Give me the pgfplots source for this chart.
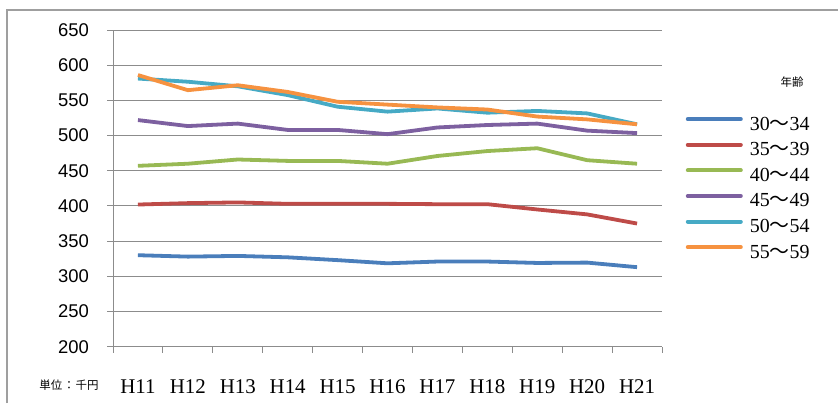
\documentclass[border=0pt]{standalone}
\usepackage{fontspec}
\setmainfont{Liberation Serif}
\newfontfamily\cjk{Noto Sans CJK JP}
\newfontfamily\sansf{Liberation Sans}
\usepackage{pgfplots}
\pgfplotsset{compat=1.18}
\definecolor{cblue}{HTML}{4A7EBB}
\definecolor{cred}{HTML}{BE4B48}
\definecolor{cgreen}{HTML}{98B954}
\definecolor{cpurple}{HTML}{7D60A0}
\definecolor{cteal}{HTML}{46AAC5}
\definecolor{corange}{HTML}{F69240}
\definecolor{gridgray}{HTML}{8C8C8C}
\begin{document}
\begin{tikzpicture}[x=1bp,y=1bp]
\path[use as bounding box] (0,0) rectangle (838,403);
\draw[gray!75, line width=1.3bp] (7,0) -- (7,393) -- (838,393);
\begin{axis}[
  at={(113bp,56.3bp)}, anchor=south west,
  scale only axis, width=549bp, height=316.7bp,
  xmin=-0.5, xmax=10.5, ymin=200, ymax=650,
  axis x line*=bottom, axis y line*=left,
  axis line style={-, draw=gridgray, line width=0.9bp},
  ytick={200,250,...,650},
  ymajorgrids, grid style={draw=gridgray, line width=0.9bp},
  xtick={0,...,10},
  xticklabels={H11,H12,H13,H14,H15,H16,H17,H18,H19,H20,H21},
  major x tick style={draw=none},
  minor xtick={-0.5,0.5,...,10.5},
  tick align=outside,
  major tick length=6bp, minor tick length=6bp,
  tick style={draw=gridgray, line width=0.9bp},
  /pgf/number format/assume math mode=true,
  yticklabel style={font=\sansf\fontsize{18.5}{18.5}\selectfont, anchor=east, inner sep=0pt, xshift=-18bp},
  xticklabel style={font=\fontsize{21}{21}\selectfont, anchor=north, inner sep=0pt, yshift=-27bp},
  legend image code/.code={\draw[#1, line width=4bp, line cap=round] (0bp,6bp) -- (53bp,6bp);},
  legend style={draw=none, fill=none, at={(1.0375,0.7468)}, anchor=north west,
    font=\fontsize{20}{20}\selectfont, row sep=0pt,
    nodes={inner sep=0pt, text height=17.8bp, text depth=7.8bp},
    /tikz/every odd column/.append style={column sep=7bp}},
  line join=round,
]
\addplot[cblue, line width=3.8bp] coordinates {(0,330) (1,328) (2,329) (3,327) (4,323) (5,318.5) (6,321) (7,321) (8,319) (9,319.5) (10,313)};
\addlegendentry{30{\cjk ～}34}
\addplot[cred, line width=3.8bp] coordinates {(0,402) (1,404) (2,405) (3,403) (4,403) (5,403) (6,402.5) (7,402.5) (8,395) (9,388) (10,375)};
\addlegendentry{35{\cjk ～}39}
\addplot[cgreen, line width=3.8bp] coordinates {(0,457) (1,460) (2,466) (3,464) (4,464) (5,460) (6,471) (7,478) (8,482) (9,465) (10,460)};
\addlegendentry{40{\cjk ～}44}
\addplot[cpurple, line width=3.8bp] coordinates {(0,522) (1,513.5) (2,517) (3,508) (4,508) (5,502) (6,511.5) (7,515) (8,517) (9,507) (10,503.5)};
\addlegendentry{45{\cjk ～}49}
\addplot[cteal, line width=3.8bp] coordinates {(0,581) (1,576.5) (2,570) (3,557.5) (4,541) (5,534) (6,538.5) (7,532.5) (8,535) (9,531.5) (10,516)};
\addlegendentry{50{\cjk ～}54}
\addplot[corange, line width=3.8bp] coordinates {(0,586) (1,564.5) (2,571.5) (3,562) (4,548) (5,544) (6,540) (7,537) (8,527) (9,523) (10,516)};
\addlegendentry{55{\cjk ～}59}
\end{axis}
\node[font=\cjk\fontsize{11.5}{11.5}\selectfont, inner sep=0pt] at (792,321) {年齢};
\node[font=\cjk\fontsize{11.5}{11.5}\selectfont, inner sep=0pt] at (69,18) {単位\hspace{1pt}：\hspace{1pt}千円};
\end{tikzpicture}
\end{document}
